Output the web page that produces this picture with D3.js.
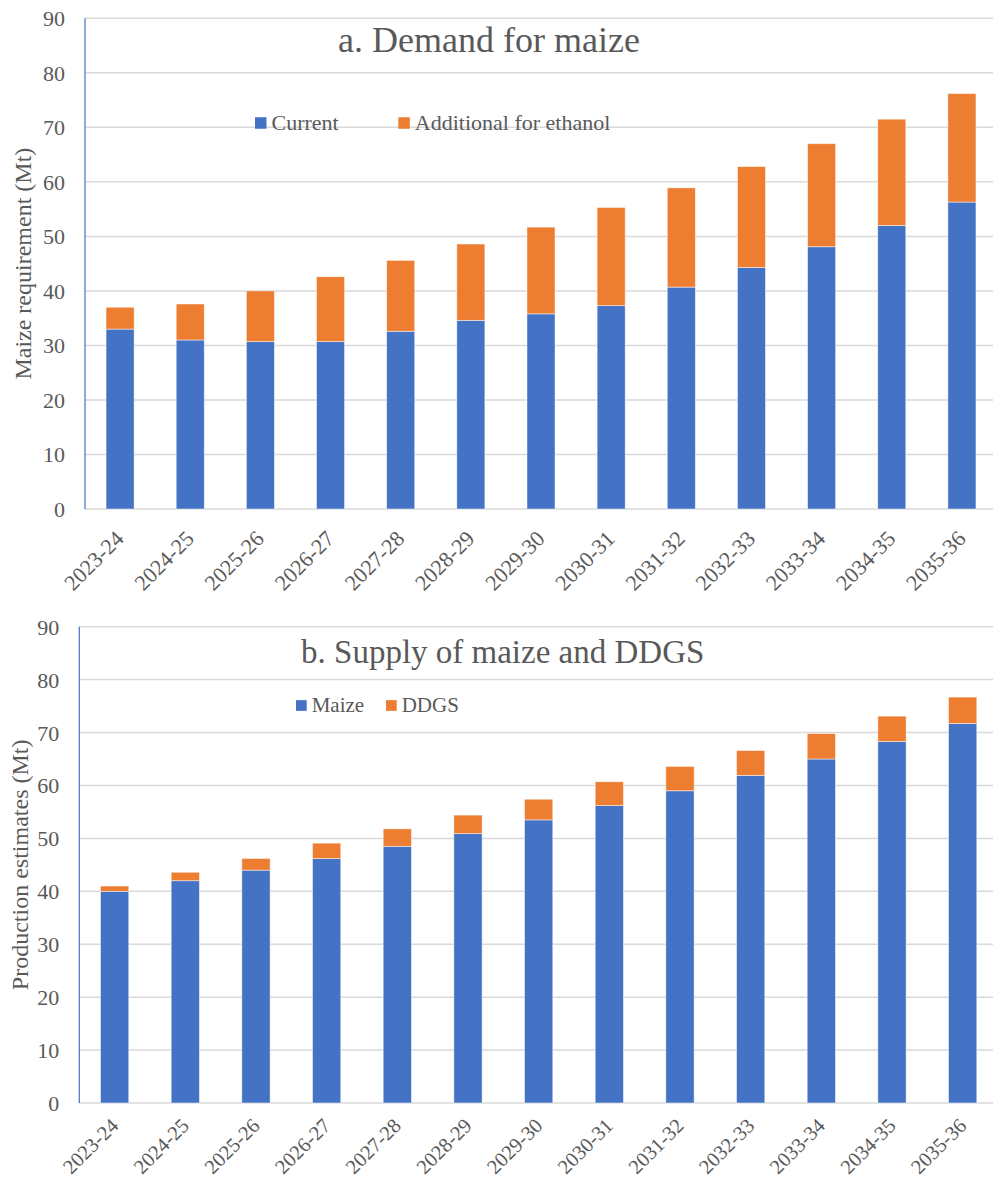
<!DOCTYPE html>
<html lang="en">
<head>
<meta charset="UTF-8">
<title>Demand for maize and supply of maize and DDGS</title>
<script src="https://d3js.org/d3.v7.min.js"></script>
<style>
  body {
    margin: 0;
    background: #fff;
  }
  svg text {
    font-family: "Liberation Serif", "Times New Roman", Tinos, "DejaVu Serif", serif !important;
    fill: #595959;
  }
  .grid line { stroke: #d9d9d9; stroke-width: 1.5; }
</style>
</head>
<body>
<svg id="chart" width="993" height="1183"></svg>

<script>
// categories
var years = ["2023-24", "2024-25", "2025-26", "2026-27", "2027-28", "2028-29", "2029-30",
             "2030-31", "2031-32", "2032-33", "2033-34", "2034-35", "2035-36"];

// a. demand (Mt)
var demandCurrent = [33.0, 31.0, 30.7, 30.7, 32.6, 34.6, 35.8, 37.3, 40.7, 44.3, 48.1, 52.0, 56.3];
var demandEthanol = [4.0, 6.6, 9.3, 11.9, 13.0, 14.0, 15.9, 18.0, 18.2, 18.5, 18.9, 19.5, 19.9];

// b. supply (Mt)
var supplyMaize = [40.0, 42.0, 44.0, 46.2, 48.5, 50.9, 53.5, 56.2, 59.0, 61.9, 65.0, 68.3, 71.7];
var supplyDDGS = [1.0, 1.6, 2.2, 2.9, 3.3, 3.5, 3.9, 4.5, 4.6, 4.7, 4.8, 4.8, 5.0];

var yTicks = [0, 10, 20, 30, 40, 50, 60, 70, 80, 90];

var blue = "#4472c4";
var orange = "#ed7d31";

var svg = d3.select("#chart");

function drawPanel(opt) {
  var x = d3.scaleBand()
    .domain(years)
    .range([opt.left, opt.right])
    .paddingInner(0.6)
    .paddingOuter(0.3);

  var y = d3.scaleLinear()
    .domain([0, 90])
    .range([opt.bottom, opt.top]);

  var g = svg.append("g");

  // gridlines
  g.append("g")
    .attr("class", "grid")
    .selectAll("line")
    .data(yTicks)
    .enter()
    .append("line")
    .attr("x1", opt.left)
    .attr("x2", opt.right)
    .attr("y1", d => y(d))
    .attr("y2", d => y(d));

  // y axis labels
  var yAxis = g.append("g")
    .attr("transform", "translate(" + (opt.left - 20) + ",0)")
    .call(d3.axisLeft(y).tickValues(yTicks).tickSize(0).tickPadding(0));
  yAxis.select(".domain").remove();
  yAxis.selectAll("text")
    .attr("font-size", 22)
    .attr("dy", "0.34em");

  // stacked bars
  var rows = years.map((yr, i) => ({ year: yr, a: opt.s1[i], b: opt.s2[i] }));
  var stack = d3.stack().keys(["a", "b"])(rows);
  var colors = [blue, orange];

  g.selectAll("g.series")
    .data(stack)
    .enter()
    .append("g")
    .attr("fill", (d, i) => colors[i])
    .selectAll("rect")
    .data(d => d)
    .enter()
    .append("rect")
    .attr("x", d => x(d.data.year))
    .attr("width", x.bandwidth())
    .attr("y", d => y(d[1]))
    .attr("height", d => y(d[0]) - y(d[1]))
    .attr("stroke", "#fff")
    .attr("stroke-opacity", 0.6)
    .attr("stroke-width", 0.8);

  // y axis line
  g.append("line")
    .attr("x1", opt.left)
    .attr("x2", opt.left)
    .attr("y1", y(90))
    .attr("y2", y(0))
    .attr("stroke", blue)
    .attr("stroke-width", 1.2);

  // x axis labels
  var xAxis = g.append("g")
    .attr("transform", "translate(0," + opt.bottom + ")")
    .call(d3.axisBottom(x).tickSize(0).tickPadding(0));
  xAxis.select(".domain").remove();
  xAxis.selectAll("text")
    .attr("font-size", opt.xLabelSize)
    .attr("text-anchor", "end")
    .attr("dy", null)
    .attr("transform", "translate(5," + opt.xLabelOffset + ") rotate(-45)");

  // y axis title
  g.append("text")
    .attr("transform", "translate(" + opt.titleX + "," + (opt.top + opt.bottom) / 2 + ") rotate(-90)")
    .attr("text-anchor", "middle")
    .attr("font-size", 24)
    .text(opt.yTitle);

  // chart title
  g.append("text")
    .attr("x", opt.headX)
    .attr("y", opt.headY)
    .attr("text-anchor", "middle")
    .attr("font-size", opt.headSize)
    .text(opt.head);

  // legend
  opt.legend.forEach((item, i) => {
    g.append("rect")
      .attr("x", item.x)
      .attr("y", opt.legendY - item.size / 2)
      .attr("width", item.size)
      .attr("height", item.size)
      .attr("fill", colors[i]);
    g.append("text")
      .attr("x", item.x + item.size + 5)
      .attr("y", opt.legendY)
      .attr("dy", "0.33em")
      .attr("font-size", opt.legendSize)
      .text(item.label);
  });
}

drawPanel({
  left: 85, right: 997, top: 18.3, bottom: 509,
  s1: demandCurrent, s2: demandEthanol,
  yTitle: "Maize requirement (Mt)", titleX: 31,
  head: "a. Demand for maize", headX: 489, headY: 52, headSize: 36,
  legendY: 123, legendSize: 22,
  legend: [
    { label: "Current", x: 255, size: 11.5 },
    { label: "Additional for ethanol", x: 398.3, size: 11.5 }
  ],
  xLabelOffset: 31, xLabelSize: 22
});

drawPanel({
  left: 79.3, right: 998, top: 626.7, bottom: 1103,
  s1: supplyMaize, s2: supplyDDGS,
  yTitle: "Production estimates (Mt)", titleX: 28,
  head: "b. Supply of maize and DDGS", headX: 502.7, headY: 663.3, headSize: 33,
  legendY: 705.5, legendSize: 21,
  legend: [
    { label: "Maize", x: 296, size: 10.7 },
    { label: "DDGS", x: 386, size: 10.7 }
  ],
  xLabelOffset: 24, xLabelSize: 20.5
});
</script>
</body>
</html>
